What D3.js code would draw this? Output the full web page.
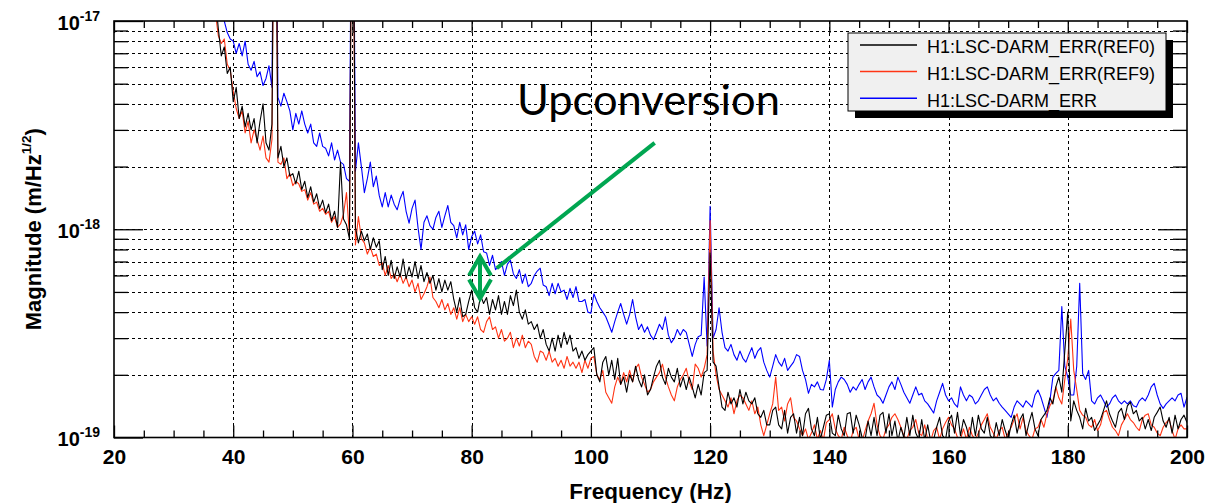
<!DOCTYPE html>
<html><head><meta charset="utf-8">
<script src="https://cdn.jsdelivr.net/npm/d3@7"></script>
<style>body{margin:0;background:#fff;overflow:hidden}</style>
</head><body>
<svg id="c" width="1207" height="503"></svg>
<script>
// ---------- DATA (amplitude in units of 1e-19 m/Hz^1/2, 0.5 Hz bins from 37 Hz) ----------
const UNIT = 1e-19;
const freqStart = 37, freqStep = 0.5;
const ref0 = [ // black, H1:LSC-DARM_ERR(REF0)
  130, 92, 68, 75, 56, 60,
  41, 48, 34, 39, 31, 36, 30, 34, 26, 33, 40, 26, 24, 32, 2000, 22, 25, 20, 22, 18,
  18.5, 16.5, 19, 15.5, 17, 14.2, 16, 13.5, 14.8, 12.6, 13.8, 12, 13.2, 11, 12.2, 10.2, 21, 11.2, 10.5, 9.0,
  2500, 10.2, 8.6, 9.8, 8.8, 9.5, 8.0, 9.1, 8.2, 8.8, 6.4, 7.4, 6.0, 7.1, 5.8, 6.6, 5.9, 7.2, 5.8, 6.6,
  5.9, 7.0, 5.8, 6.7, 5.6, 6.2, 5.5, 6.0, 5.1, 5.8, 5.0, 5.7, 5.1, 5.6, 4.6, 4.0, 4.7, 3.8, 3.9, 4.5,
  5.1, 4.2, 4.0, 4.8, 4.4, 4.7, 3.9, 4.6, 4.1, 4.8, 3.9, 4.5, 3.9, 4.8, 4.3, 5.1, 4.0, 3.7, 4.1, 3.5,
  3.6, 3.3, 3.5, 3.0, 3.3, 2.8, 2.6, 3.0, 2.6, 3.1, 2.7, 3.2, 2.8, 3.1, 2.6, 2.7, 2.4, 2.6, 2.35, 2.5,
  2.6, 2.7, 2.0, 1.85, 2.3, 2.45, 2.0, 2.35, 1.9, 2.4, 1.8, 1.95, 1.65, 2.0, 1.85, 2.2, 1.9, 1.75, 2.0, 1.6,
  1.7, 1.95, 2.2, 2.35, 1.95, 1.8, 2.15, 1.95, 1.85, 2.15, 1.75, 1.95, 1.7, 1.95, 1.75, 1.55, 1.8, 1.6, 2.05, 2.1,
  7.7, 2.3, 2.2, 1.75, 1.4, 1.35, 1.65, 1.45, 1.55, 1.4, 1.7, 1.45, 1.65, 1.5, 1.45, 1.55, 1.3, 1.25, 1.35, 1.15,
  1.15, 1.35, 1.4, 1.15, 1.1, 1.35, 1.05, 1.25, 1.3, 1.05, 1.25, 1.02, 1.3, 1.38, 1.1, 1.02, 1.25, 0.98, 1.12, 1.28,
  1.3, 1.05, 1.02, 1.28, 1.1, 1.02, 1.3, 1.32, 1.05, 1.28, 1.15, 1.0, 0.98, 1.2, 1.02, 1.25, 1.02, 1.28, 1.32, 1.05,
  1.3, 1.02, 1.2, 0.96, 1.12, 1.0, 1.25, 1.02, 1.28, 1.05, 0.98, 1.22, 0.97, 1.15, 0.96, 0.98, 1.12, 1.25, 1.02, 0.98,
  1.2, 1.28, 1.05, 1.32, 1.02, 1.22, 1.12, 0.98, 1.25, 1.02, 1.28, 1.1, 1.05, 1.25, 1.02, 0.98, 1.18, 1.02, 1.22, 1.08,
  0.98, 1.15, 1.28, 1.05, 1.22, 1.3, 1.02, 1.18, 1.32, 1.1, 1.02, 1.22, 1.28, 1.35, 1.55, 1.45, 1.75, 1.95, 1.65, 2.6,
  4.0, 1.2, 1.5, 1.35, 1.25, 1.1, 1.38, 1.2, 1.25, 1.08, 1.15, 1.22, 1.35, 1.5, 1.3, 1.2, 1.12, 1.32, 1.38, 1.22,
  1.42, 1.48, 1.3, 1.35, 1.2, 1.25, 1.1, 1.22, 1.08, 1.25, 1.32, 1.4, 1.2, 1.12, 1.25, 1.05, 1.28, 1.1, 1.22, 1.28,
  1.18
];
const ref9 = [ // red, H1:LSC-DARM_ERR(REF9)
  110, 85, 78, 82, 62, 58,
  46, 38, 34, 37, 29, 33, 26, 30, 27, 24, 28, 22, 21, 27, 2000, 21, 20.5, 22, 17.5, 18.5,
  16.2, 17, 16.5, 15.2, 15.5, 13.8, 15, 13.2, 13.5, 12.2, 12.6, 11.8, 12.2, 10.8, 11.5, 10.2, 10.6, 11.8, 15, 9.3,
  2000, 8.4, 11.5, 9.0, 8.6, 7.6, 8.2, 7.4, 7.6, 6.7, 6.9, 6.0, 6.7, 5.8, 6.1, 5.6, 6.1, 5.5, 5.9, 5.3,
  5.7, 5.0, 5.5, 4.6, 4.9, 5.3, 5.9, 4.7, 4.5, 4.2, 4.6, 4.1, 4.4, 3.9, 4.2, 3.7, 4.2, 3.6, 3.9, 3.6,
  3.8, 3.5, 3.8, 3.3, 3.2, 3.6, 3.8, 3.3, 3.4, 3.0, 3.3, 2.9, 3.0, 3.2, 2.7, 3.0, 2.75, 3.1, 2.7, 2.9,
  2.8, 2.45, 2.3, 2.6, 2.55, 2.35, 2.6, 2.3, 2.4, 2.2, 2.35, 2.15, 2.45, 2.2, 2.3, 2.15, 2.3, 2.05, 2.35, 2.15,
  2.4, 2.45, 2.0, 1.9, 2.1, 1.65, 1.55, 1.46, 1.75, 1.95, 1.8, 2.05, 1.85, 2.1, 1.85, 2.15, 2.25, 1.95, 1.8, 1.65,
  1.7, 1.85, 1.95, 2.05, 2.25, 1.95, 1.75, 1.6, 1.5, 1.75, 1.9, 2.0, 2.15, 1.85, 1.7, 2.25, 2.15, 1.95, 2.15, 2.5,
  11, 2.6, 2.0, 1.7, 1.6, 1.5, 1.4, 1.55, 1.3, 1.5, 1.6, 1.55, 1.45, 1.35, 1.5, 1.3, 1.4, 1.15, 1.02, 1.15,
  1.3, 1.45, 1.95, 1.35, 1.4, 1.2, 1.45, 1.55, 1.25, 1.2, 1.1, 1.02, 1.1, 0.98, 1.05, 1.15, 0.98, 1.08, 0.97, 1.18,
  1.22, 1.3, 1.1, 1.02, 0.98, 1.12, 1.02, 0.95, 1.08, 1.12, 0.98, 0.96, 1.08, 1.2, 1.3, 1.46, 1.15, 1.02, 0.98, 1.1,
  1.15, 1.25, 1.3, 1.22, 1.12, 1.02, 0.98, 1.08, 1.12, 1.22, 1.05, 1.02, 1.15, 0.98, 0.96, 1.08, 1.12, 0.98, 1.1, 1.18,
  1.25, 1.15, 1.1, 1.0, 0.98, 1.1, 0.98, 1.12, 1.02, 0.98, 1.05, 1.15, 1.22, 1.3, 1.12, 1.05, 0.98, 1.08, 1.12, 0.98,
  1.05, 1.12, 1.22, 1.3, 1.1, 1.25, 1.08, 1.02, 0.98, 1.1, 1.12, 1.22, 1.12, 1.3, 1.42, 1.5, 1.75, 1.55, 1.45, 1.9,
  2.4, 3.7, 2.1, 1.7, 1.35, 1.28, 1.25, 1.15, 1.12, 1.22, 1.08, 1.15, 1.32, 1.35, 1.22, 1.12, 1.08, 1.02, 1.15, 1.22,
  1.3, 1.22, 1.18, 1.12, 1.08, 1.22, 1.28, 1.3, 1.15, 1.12, 1.05, 1.02, 1.12, 1.18, 1.22, 1.08, 0.98, 1.1, 1.15, 1.1,
  1.1
];
const live = [ // blue, H1:LSC-DARM_ERR
  300, 200, 130, 100, 88, 82,
  80, 70, 78, 68, 80, 62, 58, 64, 54, 57, 49, 53, 61, 48, 3000, 43, 39, 45, 41, 37,
  30, 36, 32, 37, 32, 29, 32, 26, 25, 29, 25, 24.5, 22.5, 26, 21.5, 24, 21, 20.5, 17.5, 17,
  3000, 19, 26, 20, 15, 17.5, 21, 16, 18, 14.5, 12.8, 15, 12.8, 14.6, 13.2, 12.4, 14, 15.2, 12.2, 10.7,
  12.6, 13.8, 10.2, 8.0, 10.8, 11.6, 10.4, 10.0, 11.4, 12.2, 10.2, 11.6, 13.0, 10.8, 10.4, 9.1, 10.8, 9.4, 10.5, 8.0,
  9.2, 9.8, 8.5, 9.4, 7.8, 7.7, 6.7, 7.5, 6.4, 6.6, 7.0, 6.0, 6.8, 7.1, 6.1, 5.8, 6.4, 5.5, 6.1, 5.3,
  5.5, 6.0, 6.3, 6.5, 5.4, 5.3, 4.8, 5.5, 4.9, 5.5, 5.0, 5.1, 4.6, 5.2, 4.7, 5.3, 4.5, 4.5, 4.6, 4.0,
  3.95, 4.9, 4.5, 4.2, 4.0, 3.8, 3.5, 3.2, 3.6, 4.0, 4.4, 3.9, 3.5, 3.9, 4.6, 3.8, 3.3, 3.5, 3.2, 3.4,
  3.1, 2.95, 3.2, 3.5, 3.3, 3.8, 3.1, 2.85, 3.0, 3.3, 3.1, 3.3, 3.2, 2.8, 2.45, 2.8, 3.05, 3.1, 5.9, 2.75,
  12.9, 3.0, 3.3, 4.2, 3.2, 2.7, 2.6, 2.8, 2.5, 2.35, 2.6, 2.4, 2.3, 2.5, 2.7, 2.4, 2.6, 2.7, 2.3, 2.1,
  1.95, 2.2, 2.5, 2.3, 2.2, 2.4, 2.1, 2.2, 2.3, 2.5, 2.45, 2.1, 1.9, 1.63, 1.8, 1.75, 1.85, 1.7, 1.69, 1.9,
  2.35, 1.4, 1.7, 1.85, 1.95, 1.9, 1.8, 1.65, 1.75, 1.69, 1.8, 1.9, 1.7, 1.85, 1.95, 1.75, 1.6, 1.55, 1.46, 1.6,
  1.75, 1.85, 1.7, 1.95, 1.8, 1.65, 1.55, 1.46, 1.6, 1.75, 1.6, 1.63, 1.5, 1.45, 1.38, 1.31, 1.5, 1.65, 1.82, 1.6,
  1.5, 1.55, 1.45, 1.4, 1.75, 1.6, 1.5, 1.6, 1.56, 1.45, 1.5, 1.6, 1.7, 1.75, 1.6, 1.5, 1.55, 1.46, 1.4, 1.35,
  1.3, 1.25, 1.4, 1.5, 1.45, 1.4, 1.5, 1.45, 1.4, 1.6, 1.69, 1.56, 1.4, 1.25, 1.5, 1.95, 2.03, 2.1, 4.25, 2.2,
  1.95, 1.6, 1.6, 2.2, 5.5, 2.03, 1.9, 2.1, 1.5, 1.45, 1.55, 1.6, 1.5, 1.4, 1.45, 1.55, 1.6, 1.5, 1.45, 1.5,
  1.45, 1.5, 1.42, 1.4, 1.5, 1.55, 1.5, 1.6, 1.75, 1.82, 1.6, 1.45, 1.38, 1.45, 1.5, 1.55, 1.5, 1.6, 1.63, 1.4,
  1.56
];
const seriesNames = ["H1:LSC-DARM_ERR(REF0)", "H1:LSC-DARM_ERR(REF9)", "H1:LSC-DARM_ERR"];
const seriesColors = ["#000000", "#ff3414", "#0000ff"];
const xMajorTicks = [20, 40, 60, 80, 100, 120, 140, 160, 180, 200];
const yMajorTicks = [1e-19, 1e-18, 1e-17];
const yExponents = ["-19", "-18", "-17"];
const xTitle = "Frequency (Hz)";
const annotationText = "Upconversion";
// annotation anchor points in data units (Hz, m/Hz^1/2)
const arrowFreq = 81.4, arrowTop = 7.4e-19, arrowBottom = 4.65e-19;
const pointerFrom = [84.2, 6.5e-19], pointerTo = [110.7, 2.6e-18];
const labelAt = [87.6, 3.55e-18];

// ---------- LAYOUT ----------
const X0 = 114, X1 = 1187, Y0 = 21, Y1 = 437.5;
const FONT = "'Liberation Sans', Arial, Helvetica, sans-serif";
const svg = d3.select("#c");
const x = d3.scaleLinear().domain([20, 200]).range([X0, X1]);
const y = d3.scaleLog().domain([1e-19, 1e-17]).range([Y1, Y0]);
const freqs = ref0.map((_, i) => freqStart + i * freqStep);

const yAll = y.ticks();
const yInner = yAll.filter(v => v > 1.0001e-19 && v < 0.9999e-17);
const xMinor = d3.range(20, 201, 5).filter(v => xMajorTicks.indexOf(v) < 0);

// grid
const grid = svg.append("g").attr("stroke", "#000").attr("stroke-width", 1)
  .attr("stroke-dasharray", "3,3").attr("shape-rendering", "crispEdges");
grid.selectAll("line.h").data(yInner).join("line").attr("class", "h")
  .attr("x1", X0).attr("x2", X1).attr("y1", d => Math.round(y(d)) + 0.5).attr("y2", d => Math.round(y(d)) + 0.5);
grid.selectAll("line.v").data(xMajorTicks.slice(1, -1)).join("line").attr("class", "v")
  .attr("y1", Y0).attr("y2", Y1).attr("x1", d => Math.round(x(d)) + 0.5).attr("x2", d => Math.round(x(d)) + 0.5);

// series
svg.append("defs").append("clipPath").attr("id", "plotclip")
  .append("rect").attr("x", X0).attr("y", Y0).attr("width", X1 - X0).attr("height", Y1 - Y0);
const line = d3.line().x((d, i) => x(freqs[i])).y(d => y(d * UNIT));
const plotG = svg.append("g").attr("clip-path", "url(#plotclip)");
[[live, 2], [ref9, 1], [ref0, 0]].forEach(([arr, k]) => {
  plotG.append("path").datum(arr).attr("d", line).attr("fill", "none")
    .attr("stroke", seriesColors[k]).attr("stroke-width", 1.1).attr("stroke-linejoin", "round");
});

// axes
function styleAxis(g) {
  g.select(".domain").remove();
  g.selectAll(".tick line").attr("stroke", "#000").attr("stroke-width", 1.3);
  g.attr("font-family", FONT).attr("font-size", 21).attr("font-weight", "bold");
  g.selectAll("text").attr("fill", "#000");
}
svg.append("g").attr("transform", `translate(0,${Y1})`)
  .call(d3.axisBottom(x).tickValues(xMinor).tickSize(-7).tickFormat("")).call(styleAxis);
svg.append("g").attr("transform", `translate(0,${Y1})`)
  .call(d3.axisBottom(x).tickValues(xMajorTicks).tickSize(-12).tickPadding(11.5).tickFormat(d3.format("d"))).call(styleAxis);
svg.append("g").attr("transform", `translate(0,${Y0})`)
  .call(d3.axisTop(x).tickValues(xMinor).tickSize(-7).tickFormat("")).call(styleAxis);
svg.append("g").attr("transform", `translate(0,${Y0})`)
  .call(d3.axisTop(x).tickValues(xMajorTicks).tickSize(-12).tickFormat("")).call(styleAxis);
const yMinorTicks = yInner.filter(v => Math.abs(Math.log10(v) - Math.round(Math.log10(v))) > 1e-6);
svg.append("g").attr("transform", `translate(${X0},0)`)
  .call(d3.axisLeft(y).tickValues(yMinorTicks).tickSize(-14).tickFormat("")).call(styleAxis);
svg.append("g").attr("transform", `translate(${X1},0)`)
  .call(d3.axisRight(y).tickValues(yMinorTicks).tickSize(-14).tickFormat("")).call(styleAxis);
svg.append("g").attr("transform", `translate(${X1},0)`)
  .call(d3.axisRight(y).tickValues([1e-18]).tickSize(-29).tickFormat("")).call(styleAxis);
const yl = svg.append("g").attr("transform", `translate(${X0},0)`)
  .call(d3.axisLeft(y).tickValues(yMajorTicks).tickSize(-29).tickPadding(14).tickFormat(() => "")).call(styleAxis);
yl.selectAll(".tick text").attr("dy", 8).attr("font-size", 20).each(function (d, i) {
  const t = d3.select(this);
  t.append("tspan").text("10");
  t.append("tspan").attr("font-size", 14).attr("dy", -9).text(yExponents[i]);
});

// frame
svg.append("rect").attr("x", X0).attr("y", Y0).attr("width", X1 - X0).attr("height", Y1 - Y0)
  .attr("fill", "none").attr("stroke", "#000").attr("stroke-width", 1.6);

// axis titles
svg.append("text").attr("x", (X0 + X1) / 2).attr("y", 499).attr("text-anchor", "middle")
  .attr("font-family", FONT).attr("font-weight", "bold").attr("font-size", 22.5).text(xTitle);
const yt = svg.append("text").attr("transform", `translate(41,${(Y0 + Y1) / 2}) rotate(-90)`)
  .attr("text-anchor", "middle").attr("font-family", FONT).attr("font-weight", "bold").attr("font-size", 22);
yt.append("tspan").text("Magnitude (m/Hz");
yt.append("tspan").attr("font-size", 13.5).attr("dy", -10).text("1/2");
yt.append("tspan").attr("dy", 10).text(")");

// legend
const LX = 848, LY = 33, LW = 318, LH = 78;
svg.append("rect").attr("x", LX + 7).attr("y", LY + 7).attr("width", LW).attr("height", LH).attr("fill", "#000");
svg.append("rect").attr("x", LX).attr("y", LY).attr("width", LW).attr("height", LH)
  .attr("fill", "#f0f0f0").attr("stroke", "#000").attr("stroke-width", 1);
const lg = svg.append("g").selectAll("g").data(seriesNames).join("g")
  .attr("transform", (d, i) => `translate(0,${45 + i * 26.6})`);
lg.append("line").attr("x1", 860).attr("x2", 917).attr("stroke", (d, i) => seriesColors[i]).attr("stroke-width", 1.5);
lg.append("text").attr("x", 927).attr("y", 8.3).attr("font-family", FONT).attr("font-size", 18)
  .attr("fill", "#000").text(d => d);

// annotation
const green = "#00a651";
const ag = svg.append("g").attr("stroke", green).attr("stroke-width", 4).attr("fill", "none");
const ax = x(arrowFreq), ayT = y(arrowTop), ayB = y(arrowBottom);
ag.append("line").attr("x1", ax).attr("x2", ax).attr("y1", ayT + 2).attr("y2", ayB - 2);
ag.append("polyline").attr("points", `${ax - 11},${ayT + 19} ${ax},${ayT} ${ax + 11},${ayT + 19}`);
ag.append("polyline").attr("points", `${ax - 11},${ayB - 19} ${ax},${ayB} ${ax + 11},${ayB - 19}`);
ag.append("line").attr("x1", x(pointerFrom[0])).attr("y1", y(pointerFrom[1]))
  .attr("x2", x(pointerTo[0])).attr("y2", y(pointerTo[1]));
const lab = svg.append("text").attr("x", x(labelAt[0])).attr("y", y(labelAt[1]))
  .attr("font-family", "Lato, 'Open Sans', sans-serif").attr("font-size", 40).attr("fill", "#000").text(annotationText);
const w = lab.node().getComputedTextLength();
lab.attr("font-size", 40 * 263 / w);
</script>
</body></html>
